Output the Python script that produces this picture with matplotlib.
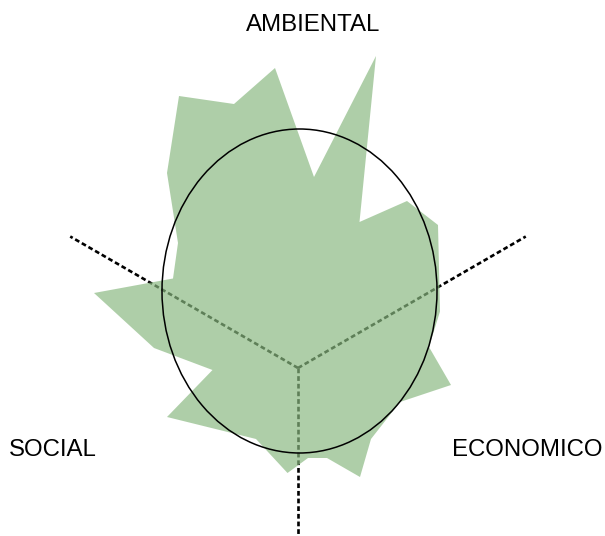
import numpy as np
import matplotlib
matplotlib.use("Agg")
import matplotlib.pyplot as plt
from matplotlib.patches import Polygon, Ellipse

plt.rcParams['font.family'] = ['Liberation Sans', 'DejaVu Sans']

# dimension labels and their axis angles (degrees)
dimensions = ['AMBIENTAL', 'ECONOMICO', 'SOCIAL']
axis_angles = [150, 30, 270]
axis_length = 263

# outline of the assessment shape (x, y relative to the centre)
shape_x = [78, 61.5, 109, 140, 142, 131, 153, 102, 73, 62, 29, 10, -10.5, -42,
           -131, -85.5, -144, -204, -125, -120, -131, -119, -64, -23, 16]
shape_y = [312, 146, 167, 143, 56.5, 21, -17, -34, -71, -109, -90, -90, -105, -71,
           -49, -2, 20, 75, 89.5, 125, 195, 272, 264, 300, 191]

# reference ellipse: centre, width, height
ref_centre = (1.5, 77)
ref_width = 275
ref_height = 324

fig = plt.figure(figsize=(6.05, 5.36), dpi=100)
ax = fig.add_axes([0, 0, 1, 1])
ax.set_xlim(-298, 307)
ax.set_ylim(-168, 368)
ax.set_aspect('equal')
ax.axis('off')

for ang in axis_angles:
    r = np.deg2rad(ang)
    ax.plot([0, axis_length * np.cos(r)], [0, axis_length * np.sin(r)],
            color='black', lw=1.9, linestyle=(0, (1.8, 1.1)), zorder=1)

shape = Polygon(np.column_stack([shape_x, shape_y]), closed=True,
                facecolor=(0.54, 0.725, 0.505), alpha=0.69, edgecolor='none', zorder=2)
ax.add_patch(shape)

ell = Ellipse(ref_centre, ref_width, ref_height, facecolor='none',
              edgecolor='black', lw=1.1, zorder=3)
ax.add_patch(ell)

ax.text(15, 343, dimensions[0], fontsize=17.3, ha='center', va='center')
ax.text(229, -82, dimensions[1], fontsize=17.3, ha='center', va='center')
ax.text(-245, -82, dimensions[2], fontsize=17.3, ha='center', va='center')

fig.savefig('out.png', dpi=100)
